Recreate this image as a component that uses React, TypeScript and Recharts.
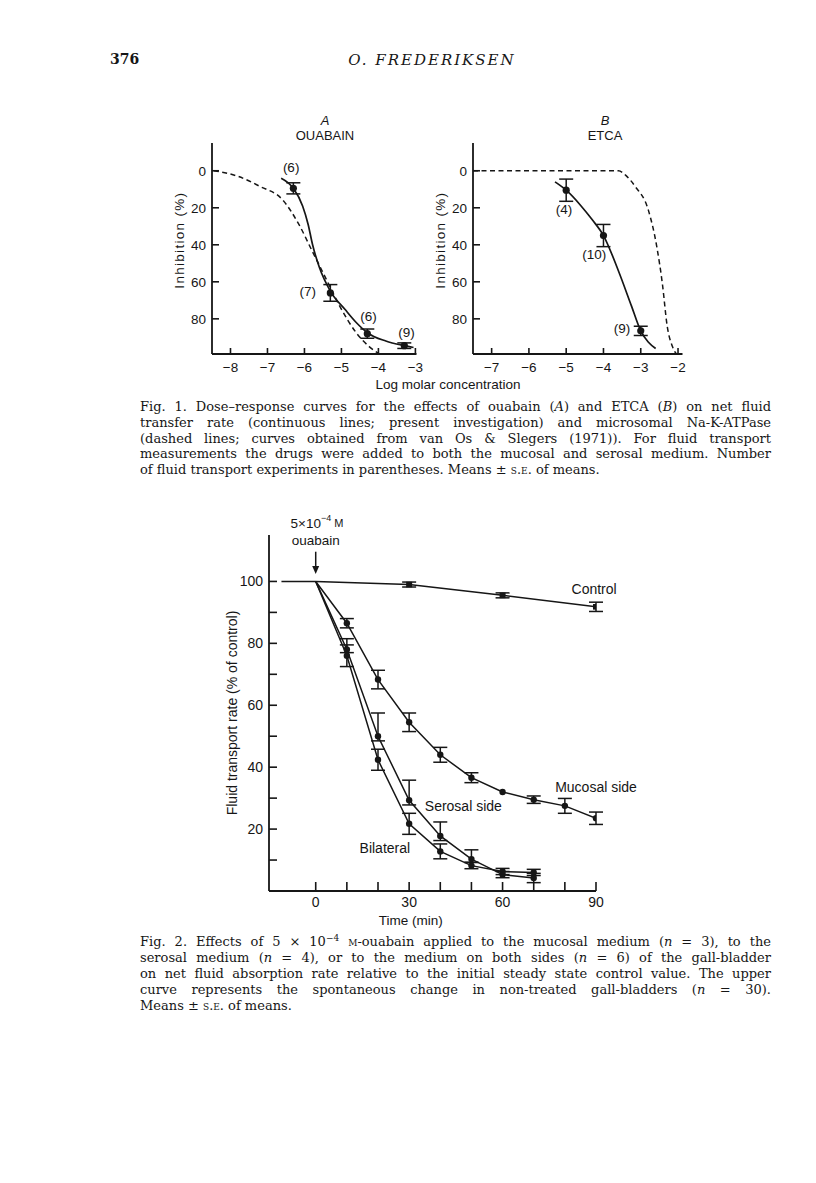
import React from "react";
import {
  ComposedChart,
  Line,
  Scatter,
  XAxis,
  YAxis,
  ErrorBar,
  ReferenceDot,
  ReferenceLine,
} from "recharts";

// Fig. 1A – ouabain, log molar concentration vs inhibition (%)
const ouabainFluidCurve = [
  { logc: -6.63, inhib: 4 },
  { logc: -6.3, inhib: 9.5 },
  { logc: -6.05, inhib: 19 },
  { logc: -5.9, inhib: 29 },
  { logc: -5.78, inhib: 40 },
  { logc: -5.6, inhib: 52 },
  { logc: -5.3, inhib: 65 },
  { logc: -4.9, inhib: 75 },
  { logc: -4.6, inhib: 82 },
  { logc: -4.3, inhib: 87.5 },
  { logc: -3.8, inhib: 92 },
  { logc: -3.3, inhib: 94.5 },
  { logc: -3.05, inhib: 95.5 },
];
const ouabainAtpaseCurve = [
  { logc: -8.45, inhib: 0 },
  { logc: -7.8, inhib: 3 },
  { logc: -7.2, inhib: 8.5 },
  { logc: -6.6, inhib: 15.5 },
  { logc: -6.15, inhib: 29 },
  { logc: -5.8, inhib: 43 },
  { logc: -5.4, inhib: 59 },
  { logc: -5.05, inhib: 73 },
  { logc: -4.6, inhib: 87.5 },
  { logc: -4.25, inhib: 95 },
  { logc: -3.97, inhib: 99 },
];
const ouabainPoints = [
  { logc: -6.3, inhib: 9.5, se: 3 },
  { logc: -5.3, inhib: 66, se: 4.5 },
  { logc: -4.3, inhib: 88, se: 2.5 },
  { logc: -3.3, inhib: 94.5, se: 1.5 },
];
const ouabainCounts = ["(6)", "(7)", "(6)", "(9)"];

// Fig. 1B – ETCA
const etcaFluidCurve = [
  { logc: -5.3, inhib: 6 },
  { logc: -5.0, inhib: 10.5 },
  { logc: -4.6, inhib: 19 },
  { logc: -4.3, inhib: 26.5 },
  { logc: -4.0, inhib: 35 },
  { logc: -3.6, inhib: 54 },
  { logc: -3.25, inhib: 73 },
  { logc: -3.0, inhib: 86.5 },
  { logc: -2.8, inhib: 92.5 },
  { logc: -2.6, inhib: 96 },
];
const etcaAtpaseCurve = [
  { logc: -7.5, inhib: 0 },
  { logc: -3.6, inhib: 0 },
  { logc: -3.4, inhib: 2.5 },
  { logc: -3.15, inhib: 8.5 },
  { logc: -2.8, inhib: 21 },
  { logc: -2.57, inhib: 41 },
  { logc: -2.42, inhib: 61 },
  { logc: -2.29, inhib: 84 },
  { logc: -2.15, inhib: 95 },
  { logc: -1.97, inhib: 100 },
];
const etcaPoints = [
  { logc: -5.0, inhib: 10.5, se: 6 },
  { logc: -4.0, inhib: 35, se: 6 },
  { logc: -3.0, inhib: 86.5, se: 2.5 },
];
const etcaCounts = ["(4)", "(10)", "(9)"];

const inhibTicks = [0, 20, 40, 60, 80];
const ouabainLogTicks = [-8, -7, -6, -5, -4, -3];
const etcaLogTicks = [-7, -6, -5, -4, -3, -2];

// Fig. 2 – fluid transport rate (% of control) vs time (min)
const controlSeries = [
  { t: -11, rate: 100 },
  { t: 0, rate: 100 },
  { t: 30, rate: 99, se: 0.8 },
  { t: 60, rate: 95.5, se: 0.8 },
  { t: 90, rate: 91.8, se: 1.5 },
];
const mucosalSeries = [
  { t: 0, rate: 100 },
  { t: 10, rate: 86.5, se: 1.5 },
  { t: 20, rate: 68.3, se: 3 },
  { t: 30, rate: 54.5, se: 3 },
  { t: 40, rate: 44, se: 2.4 },
  { t: 50, rate: 36.6, se: 1.6 },
  { t: 60, rate: 32 },
  { t: 70, rate: 29.5, se: 1.2 },
  { t: 80, rate: 27.5, se: 2.4 },
  { t: 90, rate: 23.5, se: 2 },
];
const serosalSeries = [
  { t: 0, rate: 100 },
  { t: 10, rate: 78, se: [1, 3.5] },
  { t: 20, rate: 50, se: [1.5, 7.5] },
  { t: 30, rate: 29.3, se: [1.5, 6.5] },
  { t: 40, rate: 17.8, se: [1.5, 4.5] },
  { t: 50, rate: 10.3, se: [1, 3] },
  { t: 60, rate: 5.3, se: 1 },
  { t: 70, rate: 4.2, se: 1.5 },
];
const bilateralSeries = [
  { t: 0, rate: 100 },
  { t: 10, rate: 76, se: 3.5 },
  { t: 20, rate: 42.4, se: 3.4 },
  { t: 30, rate: 21.7, se: 3.4 },
  { t: 40, rate: 12.8, se: 2.4 },
  { t: 50, rate: 8.2, se: 1 },
  { t: 60, rate: 6.3, se: 1 },
  { t: 70, rate: 6, se: 1 },
];
const rateTicks = [10, 20, 30, 40, 50, 60, 70, 80, 90, 100];
const timeTicks = [0, 10, 20, 30, 40, 50, 60, 70, 80, 90];

const INK = "#161616";
const SANS = "'Liberation Sans', Arial, Helvetica, sans-serif";
const SERIF = "'DejaVu Serif', 'Liberation Serif', serif";

const minusFmt = (v: number) => (v < 0 ? `\u2212${Math.abs(v)}` : `${v}`);

// free text placed in data space through the chart's own scales
const note = (
  key: string,
  x: number,
  y: number,
  text: React.ReactNode,
  size = 14,
  extra: React.SVGProps<SVGTextElement> = {}
) => (
  <ReferenceDot
    key={key}
    x={x}
    y={y}
    r={0}
    ifOverflow="visible"
    shape={(p: any) => (
      <text
        x={p.cx}
        y={p.cy}
        textAnchor="middle"
        dominantBaseline="central"
        fontSize={size}
        fontFamily={SANS}
        fill={INK}
        {...extra}
        transform={extra.transform ? `${extra.transform}(-90, ${p.cx}, ${p.cy})` : undefined}
      >
        {text}
      </text>
    )}
  />
);

const bigDot = (p: any) =>
  p.cx == null ? <g key={p.key} /> : <circle key={p.key} cx={p.cx} cy={p.cy} r={3.6} fill={INK} />;

const timeDot = (p: any) =>
  !p.payload || p.payload.t <= 0 ? (
    <g key={p.key} />
  ) : (
    <circle key={p.key} cx={p.cx} cy={p.cy} r={3.2} fill={INK} />
  );

const squareDot = (p: any) =>
  !p.payload || p.payload.t <= 0 ? (
    <g key={p.key} />
  ) : (
    <rect key={p.key} x={p.cx - 3} y={p.cy - 2.8} width={6} height={5.6} fill={INK} />
  );

interface DosePanelProps {
  left: number;
  yAxisWidth: number;
  plotWidth: number;
  xDomain: [number, number];
  xTicks: number[];
  fluid: { logc: number; inhib: number }[];
  atpase: { logc: number; inhib: number }[];
  points: { logc: number; inhib: number; se: number }[];
  notes: React.ReactNode[];
}

function DosePanel({ left, yAxisWidth, plotWidth, xDomain, xTicks, fluid, atpase, points, notes }: DosePanelProps) {
  const margin = { top: 43, right: 14, bottom: 0, left: 0 };
  const width = yAxisWidth + plotWidth + margin.right;
  const height = margin.top + 211 + 34;
  // y-title sits ~32px left of the axis line
  const titleX = xDomain[0] - (32 * (xDomain[1] - xDomain[0])) / plotWidth;
  return (
    <div style={{ position: "absolute", left, top: 100 }}>
      <ComposedChart width={width} height={height} margin={margin} style={{ fontFamily: SANS }}>
        <XAxis
          type="number"
          dataKey="logc"
          domain={xDomain}
          ticks={xTicks}
          allowDataOverflow
          tickFormatter={minusFmt}
          tickSize={-6}
          tickMargin={14}
          height={34}
          axisLine={{ stroke: INK, strokeWidth: 1.8 }}
          tickLine={{ stroke: INK, strokeWidth: 1.6 }}
          tick={{ fill: INK, fontSize: 13.5 }}
        />
        <YAxis
          type="number"
          dataKey="inhib"
          domain={[-15, 99]}
          reversed
          ticks={inhibTicks}
          allowDataOverflow
          width={yAxisWidth}
          tickSize={-7}
          tickMargin={13}
          axisLine={{ stroke: INK, strokeWidth: 1.8 }}
          tickLine={{ stroke: INK, strokeWidth: 1.6 }}
          tick={{ fill: INK, fontSize: 13.5 }}
        />
        <Line
          data={atpase}
          dataKey="inhib"
          type="monotone"
          stroke={INK}
          strokeWidth={1.5}
          strokeDasharray="5 3.5"
          dot={false}
          isAnimationActive={false}
        />
        <Line
          data={fluid}
          dataKey="inhib"
          type="monotone"
          stroke={INK}
          strokeWidth={1.7}
          dot={false}
          isAnimationActive={false}
        />
        <Scatter data={points} dataKey="inhib" shape={bigDot} isAnimationActive={false}>
          <ErrorBar dataKey="se" direction="y" width={7} stroke={INK} strokeWidth={1.5} />
        </Scatter>
        {note("ytitle", titleX, 37.5, "Inhibition (%)", 13.5, {
          transform: "rotate",
          style: { letterSpacing: "1.3px" },
        })}
        {notes}
      </ComposedChart>
    </div>
  );
}

const Abs = ({ x, y, children, style }: { x: number; y: number; children: React.ReactNode; style?: React.CSSProperties }) => (
  <div
    style={{
      position: "absolute",
      left: x,
      top: y,
      transform: "translate(-50%, -50%)",
      whiteSpace: "nowrap",
      color: INK,
      ...style,
    }}
  >
    {children}
  </div>
);

const SC = ({ children }: { children: React.ReactNode }) => (
  <span style={{ fontVariant: "small-caps" }}>{children}</span>
);

function Caption({ top, lines }: { top: number; lines: React.ReactNode[] }) {
  return (
    <div
      style={{
        position: "absolute",
        left: 140,
        top,
        width: 631,
        fontFamily: SERIF,
        fontSize: 13,
        lineHeight: "15.8px",
        color: INK,
      }}
    >
      {lines.map((ln, i) => (
        <div
          key={i}
          style={{
            textAlign: i === lines.length - 1 ? "left" : "justify",
            textAlignLast: i === lines.length - 1 ? "left" : "justify",
            whiteSpace: "nowrap",
          }}
        >
          {ln}
        </div>
      ))}
    </div>
  );
}

function TransportChart() {
  const margin = { top: 35, right: 60, bottom: 0, left: 0 };
  return (
    <div style={{ position: "absolute", left: 200, top: 500 }}>
      <ComposedChart width={69 + 327 + 60} height={35 + 356 + 38} margin={margin} style={{ fontFamily: SANS }}>
        <XAxis
          type="number"
          dataKey="t"
          domain={[-15, 90]}
          ticks={timeTicks}
          allowDataOverflow
          tickFormatter={(v: number) => (v % 30 === 0 ? `${v}` : "")}
          tickSize={-9}
          tickMargin={15}
          height={38}
          axisLine={{ stroke: INK, strokeWidth: 1.8 }}
          tickLine={{ stroke: INK, strokeWidth: 1.6 }}
          tick={{ fill: INK, fontSize: 14 }}
        />
        <YAxis
          type="number"
          dataKey="rate"
          domain={[0, 115]}
          ticks={rateTicks}
          allowDataOverflow
          width={69}
          tickFormatter={(v: number) => (v % 20 === 0 ? `${v}` : "")}
          tickSize={-8}
          tickMargin={14}
          axisLine={{ stroke: INK, strokeWidth: 1.8 }}
          tickLine={{ stroke: INK, strokeWidth: 1.6 }}
          tick={{ fill: INK, fontSize: 14 }}
          label={{
            value: "Fluid transport rate (% of control)",
            angle: -90,
            position: "insideLeft",
            offset: 32,
            fill: INK,
            fontSize: 14,
            style: { textAnchor: "middle" },
          }}
        />
        <Line data={controlSeries} dataKey="rate" type="linear" stroke={INK} strokeWidth={1.5} dot={squareDot} isAnimationActive={false}>
          <ErrorBar dataKey="se" width={7} stroke={INK} strokeWidth={1.5} />
        </Line>
        <Line data={mucosalSeries} dataKey="rate" type="linear" stroke={INK} strokeWidth={1.5} dot={timeDot} isAnimationActive={false}>
          <ErrorBar dataKey="se" width={7} stroke={INK} strokeWidth={1.5} />
        </Line>
        <Line data={serosalSeries} dataKey="rate" type="linear" stroke={INK} strokeWidth={1.5} dot={timeDot} isAnimationActive={false}>
          <ErrorBar dataKey="se" width={7} stroke={INK} strokeWidth={1.5} />
        </Line>
        <Line data={bilateralSeries} dataKey="rate" type="linear" stroke={INK} strokeWidth={1.5} dot={timeDot} isAnimationActive={false}>
          <ErrorBar dataKey="se" width={7} stroke={INK} strokeWidth={1.5} />
        </Line>
        <ReferenceLine
          segment={[
            { x: 0, y: 109.6 },
            { x: 0, y: 104 },
          ]}
          stroke={INK}
          strokeWidth={1.5}
          ifOverflow="visible"
        />
        <ReferenceDot
          x={0}
          y={102.4}
          r={0}
          ifOverflow="visible"
          shape={(p: any) => (
            <path d={`M${p.cx - 3.5},${p.cy - 8} L${p.cx + 3.5},${p.cy - 8} L${p.cx},${p.cy} Z`} fill={INK} />
          )}
        />
        {note(
          "dose",
          0.4,
          118.8,
          <>
            <tspan>5×10</tspan>
            <tspan dy={-5} fontSize={9}>
              −4
            </tspan>
            <tspan dy={5} fontSize={11}>
              {" "}M
            </tspan>
          </>,
          13.5
        )}
        {note("drug", 0, 113.3, "ouabain", 13.5)}
        {note("ctl", 89.4, 97.5, "Control")}
        {note("muc", 90, 33.5, "Mucosal side")}
        {note("ser", 47.4, 27.3, "Serosal side")}
        {note("bil", 22.2, 13.9, "Bilateral")}
        {note("xtitle", 30.5, -9.6, "Time (min)", 13.5)}
      </ComposedChart>
    </div>
  );
}

export default function App() {
  const ouabainNotePos = [
    [-6.36, -1.8],
    [-5.91, 65],
    [-4.27, 78.6],
    [-3.24, 87.2],
  ];
  const etcaNotePos = [
    [-5.06, 21],
    [-4.25, 45],
    [-3.5, 85],
  ];
  return (
    <div
      style={{
        position: "absolute",
        left: 0,
        top: 0,
        width: 816,
        height: 1183,
        background: "#fff",
        overflow: "hidden",
      }}
    >
      {/* running head */}
      <div
        style={{
          position: "absolute",
          left: 110,
          top: 51,
          fontFamily: SERIF,
          fontWeight: "bold",
          fontSize: 14,
          color: INK,
        }}
      >
        376
      </div>
      <Abs x={432} y={60} style={{ fontFamily: SERIF, fontStyle: "italic", fontSize: 15, letterSpacing: 2 }}>
        O. FREDERIKSEN
      </Abs>

      {/* Fig. 1 */}
      <Abs x={325} y={120} style={{ fontFamily: SANS, fontStyle: "italic", fontSize: 13 }}>
        A
      </Abs>
      <Abs x={325} y={135} style={{ fontFamily: SANS, fontSize: 13 }}>
        OUABAIN
      </Abs>
      <Abs x={605} y={120} style={{ fontFamily: SANS, fontStyle: "italic", fontSize: 13 }}>
        B
      </Abs>
      <Abs x={605} y={135} style={{ fontFamily: SANS, fontSize: 13 }}>
        ETCA
      </Abs>

      <DosePanel
        left={150}
        yAxisWidth={62}
        plotWidth={204.5}
        xDomain={[-8.5, -2.97]}
        xTicks={ouabainLogTicks}
        fluid={ouabainFluidCurve}
        atpase={ouabainAtpaseCurve}
        points={ouabainPoints}
        notes={ouabainCounts.map((c, i) => note(`o${i}`, ouabainNotePos[i][0], ouabainNotePos[i][1], c, 13.5))}
      />
      <DosePanel
        left={410}
        yAxisWidth={63}
        plotWidth={209.5}
        xDomain={[-7.5, -1.88]}
        xTicks={etcaLogTicks}
        fluid={etcaFluidCurve}
        atpase={etcaAtpaseCurve}
        points={etcaPoints}
        notes={etcaCounts.map((c, i) => note(`e${i}`, etcaNotePos[i][0], etcaNotePos[i][1], c, 13.5))}
      />
      <Abs x={448} y={384} style={{ fontFamily: SANS, fontSize: 13.5 }}>
        Log molar concentration
      </Abs>

      <Caption
        top={399}
        lines={[
          <>
            Fig. 1. Dose–response curves for the effects of ouabain (<i>A</i>) and ETCA (<i>B</i>) on net fluid
          </>,
          <>transfer rate (continuous lines; present investigation) and microsomal Na-K-ATPase</>,
          <>(dashed lines; curves obtained from van Os &amp; Slegers (1971)). For fluid transport</>,
          <>measurements the drugs were added to both the mucosal and serosal medium. Number</>,
          <>
            of fluid transport experiments in parentheses. Means ± <SC>s.e.</SC> of means.
          </>,
        ]}
      />

      {/* Fig. 2 */}
      <TransportChart />

      <Caption
        top={931}
        lines={[
          <>
            Fig. 2. Effects of 5 × 10<sup style={{ fontSize: 9 }}>−4</sup> <SC>m</SC>-ouabain applied to the mucosal
            medium (<i>n</i> = 3), to the
          </>,
          <>
            serosal medium (<i>n</i> = 4), or to the medium on both sides (<i>n</i> = 6) of the gall-bladder
          </>,
          <>on net fluid absorption rate relative to the initial steady state control value. The upper</>,
          <>
            curve represents the spontaneous change in non-treated gall-bladders (<i>n</i> = 30).
          </>,
          <>
            Means ± <SC>s.e.</SC> of means.
          </>,
        ]}
      />
    </div>
  );
}
